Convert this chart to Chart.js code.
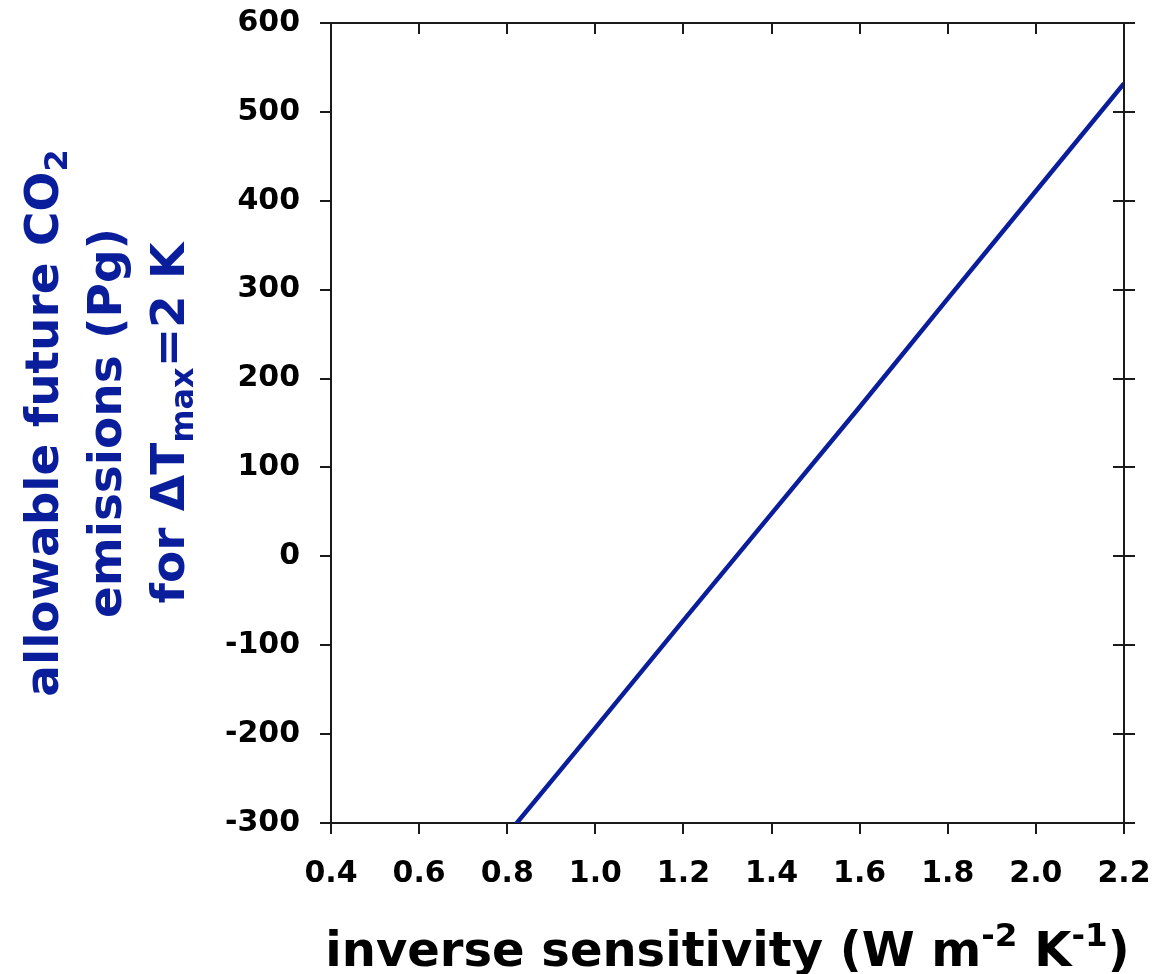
<!DOCTYPE html>
<html>
<head>
<meta charset="utf-8">
<script src="https://cdn.jsdelivr.net/npm/chart.js@4/dist/chart.umd.min.js"></script>
<style>
  html, body { margin: 0; padding: 0; background: #fff; }
  #wrap { width: 1155px; height: 974px; position: relative; }
</style>
</head>
<body>
<div id="wrap"><canvas id="c" width="1155" height="974"></canvas></div>
<script>
// Inverse climate sensitivity (W m-2 K-1)
const inverseSensitivity = [0.8, 1.0, 1.2, 1.4, 1.6, 1.8, 2.0, 2.2];
// Allowable future CO2 emissions (Pg) for a 2 K warming cap
const allowableEmissions = [-313, -193, -72, 48, 168, 290, 411, 532];

// Axis tick settings
const xTicks = [0.4, 0.6, 0.8, 1.0, 1.2, 1.4, 1.6, 1.8, 2.0, 2.2];
const yTicks = [-300, -200, -100, 0, 100, 200, 300, 400, 500, 600];

const FONT = '"DejaVu Sans", Verdana, sans-serif';
const BLUE = '#0a1e9c';
const AXIS = '#1a1a1a';
const TICK_LEN = 11;

// Measures / draws a run of text pieces (normal, superscript, subscript)
function pieceSize(p, size) { return p.s || p.b ? size * 0.68 : size; }
function richWidth(ctx, parts, size) {
  let w = 0;
  for (const p of parts) {
    ctx.font = 'bold ' + pieceSize(p, size) + 'px ' + FONT;
    w += ctx.measureText(p.t).width;
  }
  return w;
}
function drawRich(ctx, parts, cx, y, size) {
  let x = cx - richWidth(ctx, parts, size) / 2;
  ctx.textAlign = 'left';
  ctx.textBaseline = 'alphabetic';
  for (const p of parts) {
    ctx.font = 'bold ' + pieceSize(p, size) + 'px ' + FONT;
    let dy = 0;
    if (p.s) dy = -size * 0.42;
    if (p.b) dy = size * 0.2;
    ctx.fillText(p.t, x, y + dy);
    x += ctx.measureText(p.t).width;
  }
}

const frameAndTitles = {
  id: 'frameAndTitles',
  afterDraw(chart) {
    const ctx = chart.ctx;
    const xs = chart.scales.x, ys = chart.scales.y;
    const a = chart.chartArea;
    ctx.save();
    ctx.strokeStyle = AXIS;
    ctx.lineWidth = 2;
    ctx.beginPath();
    // top and right frame lines
    ctx.moveTo(a.left, a.top); ctx.lineTo(a.right, a.top);
    ctx.moveTo(a.right, a.top); ctx.lineTo(a.right, a.bottom);
    // top ticks point into the plot
    for (const v of xTicks) {
      const px = Math.round(xs.getPixelForValue(v));
      ctx.moveTo(px, a.top); ctx.lineTo(px, a.top + TICK_LEN);
    }
    // right ticks cross the axis
    for (const v of yTicks) {
      const py = Math.round(ys.getPixelForValue(v));
      ctx.moveTo(a.right - TICK_LEN, py); ctx.lineTo(a.right + TICK_LEN, py);
    }
    ctx.stroke();

    // x-axis title
    ctx.fillStyle = '#000';
    drawRich(ctx, [
      { t: 'inverse sensitivity (W m' }, { t: '-2', s: true },
      { t: ' K' }, { t: '-1', s: true }, { t: ')' }
    ], (a.left + a.right) / 2, 966, 48);

    // y-axis title, three rotated lines
    const cy = (a.top + a.bottom) / 2;
    const lines = [
      { x: 58, parts: [{ t: 'allowable future CO' }, { t: '2', b: true }] },
      { x: 121, parts: [{ t: 'emissions (Pg)' }] },
      { x: 184, parts: [{ t: 'for \u0394T' }, { t: 'max', b: true }, { t: '=2 K' }] }
    ];
    ctx.fillStyle = BLUE;
    for (const l of lines) {
      ctx.save();
      ctx.translate(l.x, cy);
      ctx.rotate(-Math.PI / 2);
      drawRich(ctx, l.parts, 0, 0, 47);
      ctx.restore();
    }
    ctx.restore();
  }
};

new Chart(document.getElementById('c'), {
  type: 'scatter',
  data: {
    datasets: [{
      data: inverseSensitivity.map((x, i) => ({ x, y: allowableEmissions[i] })),
      showLine: true,
      borderColor: BLUE,
      borderWidth: 4.5,
      pointRadius: 0,
      tension: 0,
      clip: 0
    }]
  },
  options: {
    responsive: false,
    animation: false,
    layout: { padding: { left: 0, top: 23, right: 31, bottom: 0 } },
    plugins: { legend: { display: false }, tooltip: { enabled: false } },
    scales: {
      x: {
        type: 'linear',
        min: 0.4, max: 2.2,
        afterFit: s => { s.height = 151; s.paddingLeft = 0; s.paddingRight = 0; },
        afterBuildTicks: s => { s.ticks = xTicks.map(v => ({ value: v })); },
        ticks: {
          callback: v => Number(v).toFixed(1),
          color: '#000',
          font: { family: FONT, size: 30, weight: 'bold' },
          padding: 22,
          maxRotation: 0
        },
        grid: { drawOnChartArea: false, drawTicks: true, tickLength: TICK_LEN, color: AXIS, lineWidth: 2 },
        border: { display: true, color: AXIS, width: 2 }
      },
      y: {
        type: 'linear',
        min: -300, max: 600,
        afterFit: s => { s.width = 331; s.paddingTop = 0; s.paddingBottom = 0; },
        afterBuildTicks: s => { s.ticks = yTicks.map(v => ({ value: v })); },
        ticks: {
          color: '#000',
          font: { family: FONT, size: 30, weight: 'bold' },
          padding: 20
        },
        grid: { drawOnChartArea: false, drawTicks: true, tickLength: TICK_LEN, color: AXIS, lineWidth: 2 },
        border: { display: true, color: AXIS, width: 2 }
      }
    }
  },
  plugins: [frameAndTitles]
});
</script>
</body>
</html>
